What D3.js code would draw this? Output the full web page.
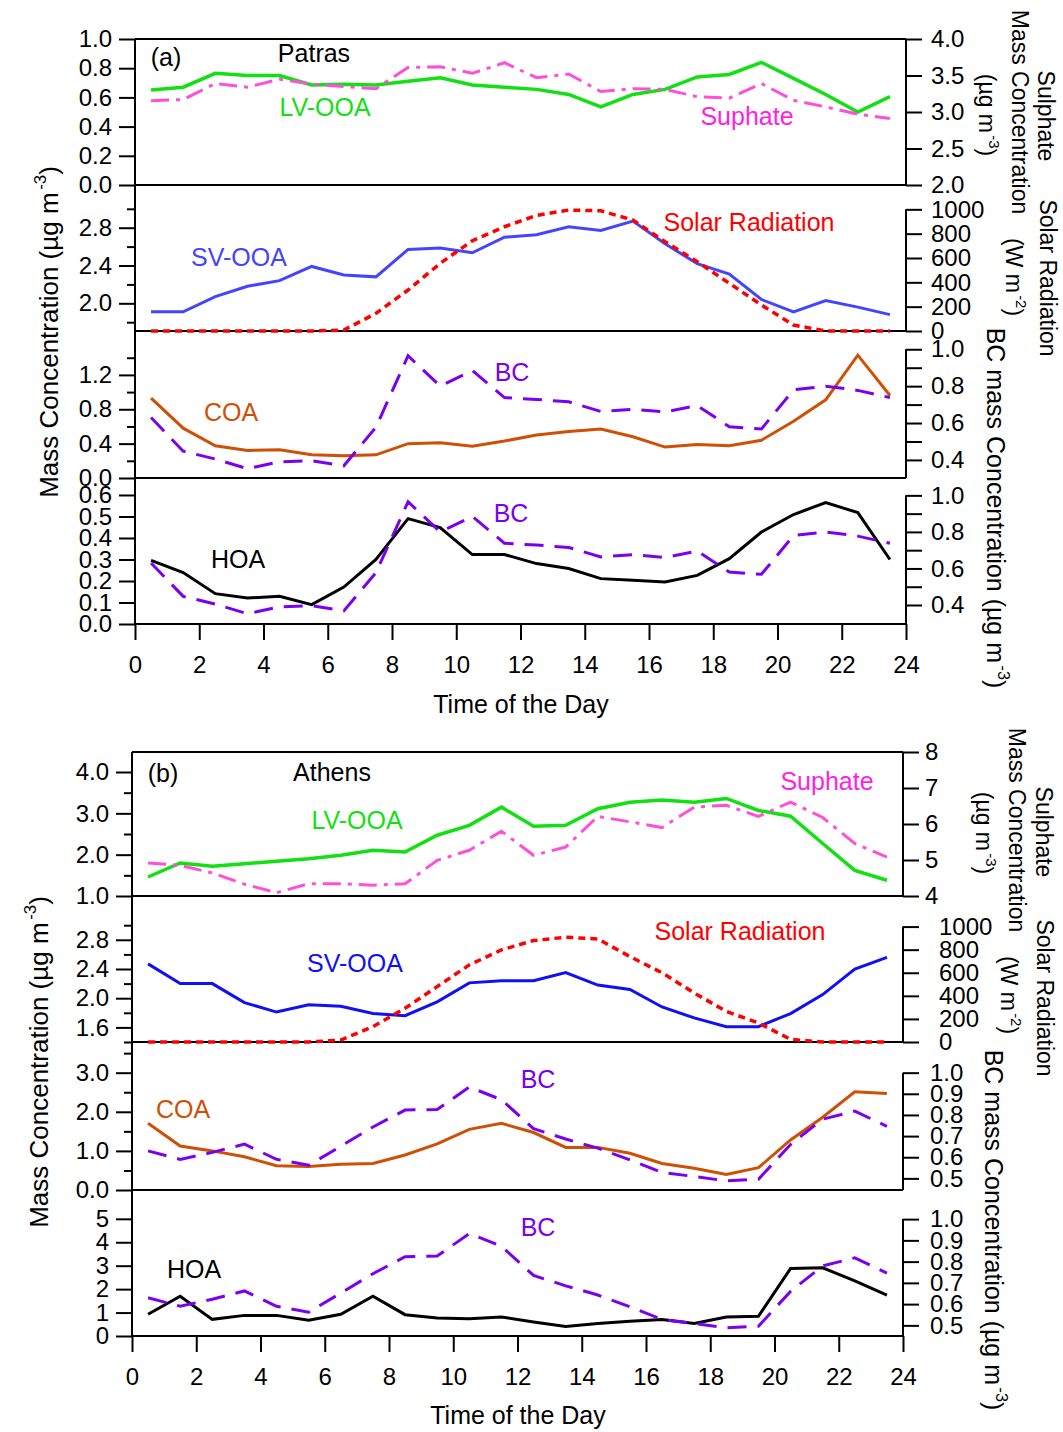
<!DOCTYPE html>
<html><head><meta charset="utf-8">
<script src="https://cdn.jsdelivr.net/npm/d3@7"></script>
<style>
body{margin:0;background:#fff}
svg{display:block}
text{font-family:"Liberation Sans",Arial,Helvetica,sans-serif}
</style>
</head><body>
<svg id="chart" width="1063" height="1432"></svg>
<script>
// ---------------- DATA ----------------
const hours = [0.5,1.5,2.5,3.5,4.5,5.5,6.5,7.5,8.5,9.5,10.5,11.5,12.5,13.5,14.5,15.5,16.5,17.5,18.5,19.5,20.5,21.5,22.5,23.5];
const xTicks = [0,2,4,6,8,10,12,14,16,18,20,22,24];

// (a) Patras
const patrasLVOOA    = [0.65,0.67,0.765,0.75,0.75,0.685,0.69,0.685,0.71,0.735,0.685,0.67,0.655,0.62,0.535,0.62,0.655,0.74,0.757,0.84,0.73,0.62,0.50,0.605];
const patrasSulphate = [3.155,3.17,3.39,3.34,3.45,3.38,3.35,3.32,3.61,3.62,3.53,3.675,3.47,3.52,3.28,3.32,3.31,3.21,3.19,3.39,3.16,3.07,2.97,2.91];
const patrasSVOOA    = [1.91,1.91,2.07,2.18,2.24,2.39,2.30,2.28,2.57,2.585,2.535,2.70,2.725,2.81,2.77,2.87,2.63,2.42,2.31,2.04,1.91,2.03,1.96,1.88];
const patrasSolar    = [0,0,0,0,0,0,8,145,337,556,742,857,950,994,988,912,734,570,392,214,49,0,0,0];
const patrasCOA      = [0.93,0.58,0.375,0.32,0.33,0.27,0.26,0.27,0.40,0.41,0.37,0.43,0.50,0.54,0.57,0.48,0.36,0.39,0.375,0.44,0.66,0.91,1.43,0.96];
const patrasBC       = [0.63,0.447,0.405,0.352,0.39,0.396,0.368,0.577,0.965,0.80,0.885,0.738,0.728,0.715,0.663,0.675,0.66,0.695,0.58,0.568,0.78,0.80,0.777,0.738];
const patrasHOA      = [0.296,0.239,0.141,0.121,0.129,0.09,0.172,0.30,0.49,0.448,0.323,0.323,0.281,0.258,0.211,0.203,0.195,0.226,0.304,0.428,0.509,0.565,0.518,0.30];

// (b) Athens
const athensLVOOA    = [1.46,1.80,1.72,1.78,1.84,1.90,1.985,2.105,2.065,2.47,2.71,3.15,2.69,2.71,3.11,3.27,3.32,3.27,3.36,3.07,2.93,2.27,1.62,1.38];
const athensSulphate = [4.92,4.85,4.64,4.33,4.09,4.34,4.34,4.30,4.34,4.99,5.27,5.80,5.13,5.36,6.21,6.06,5.90,6.47,6.52,6.21,6.61,6.18,5.46,5.08];
const athensSVOOA    = [2.47,2.20,2.20,1.94,1.81,1.91,1.89,1.79,1.76,1.95,2.21,2.24,2.24,2.35,2.18,2.12,1.88,1.73,1.61,1.61,1.79,2.05,2.40,2.56];
const athensSolar    = [0,0,0,0,0,0,17,133,292,480,668,798,879,908,893,740,600,425,265,165,23,0,0,0];
const athensCOA      = [1.705,1.125,1.0,0.85,0.62,0.60,0.66,0.68,0.895,1.18,1.55,1.705,1.47,1.09,1.09,0.94,0.68,0.555,0.40,0.57,1.28,1.86,2.51,2.47];
const athensBC       = [0.63,0.59,0.623,0.662,0.59,0.562,0.652,0.743,0.823,0.826,0.932,0.872,0.735,0.686,0.643,0.587,0.528,0.509,0.488,0.496,0.66,0.78,0.818,0.746];
const athensHOA      = [0.93,1.70,0.71,0.88,0.88,0.67,0.93,1.70,0.91,0.77,0.74,0.81,0.60,0.41,0.53,0.63,0.70,0.53,0.81,0.84,2.88,2.91,2.35,1.74];

// ---------------- STYLE ----------------
const C = {
  green:'#12e012', pinkLine:'#ff4fd8', pinkText:'#ff1ee6', blueA:'#4444ff', blueB:'#1010f2',
  red:'#ff0000', coa:'#cf4f05', bc:'#7a00f0', hoa:'#000000'
};
const DASH = { sulphate:'18,7,4,7', solar:'7,5', bc:'19,11' };

const svg = d3.select('#chart');

function styleAxis(sel){
  sel.selectAll('.domain').remove();
  sel.selectAll('.tick line').attr('stroke','#000').attr('stroke-width',2);
  sel.selectAll('.tick text').attr('font-size',24).attr('fill','#000');
}

function drawSub(g, x, s){
  const xl = x.range()[0], xr = x.range()[1];
  const yL = d3.scaleLinear().domain(s.leftDomain).range([s.bottom, s.top]);
  const yR = d3.scaleLinear().domain(s.rightDomain).range([s.bottom, s.top]);
  if (s.leftMinor && s.leftMinor.length)
    g.append('g').attr('transform',`translate(${xl},0)`)
      .call(d3.axisLeft(yL).tickValues(s.leftMinor).tickSize(8).tickFormat(''))
      .call(styleAxis);
  g.append('g').attr('transform',`translate(${xl},0)`)
    .call(d3.axisLeft(yL).tickValues(s.leftTicks).tickSize(16).tickPadding(7).tickFormat(d3.format(s.leftFmt)))
    .call(styleAxis);
  if (s.rightMinor && s.rightMinor.length)
    g.append('g').attr('transform',`translate(${xr},0)`)
      .call(d3.axisRight(yR).tickValues(s.rightMinor).tickSize(16).tickFormat(''))
      .call(styleAxis);
  g.append('g').attr('transform',`translate(${xr},0)`)
    .call(d3.axisRight(yR).tickValues(s.rightTicks).tickSize(16).tickPadding(s.rightPad).tickFormat(d3.format(s.rightFmt)))
    .call(styleAxis);
  g.append('line').attr('x1',xr).attr('x2',xr)
    .attr('y1',yR(s.rightLine[0])).attr('y2',yR(s.rightLine[1]))
    .attr('stroke','#000').attr('stroke-width',2);
  g.append('line').attr('x1',xl).attr('x2',xr).attr('y1',s.bottom).attr('y2',s.bottom)
    .attr('stroke','#000').attr('stroke-width',2);
  s.series.forEach(se=>{
    const yy = se.axis==='L' ? yL : yR;
    g.append('path').datum(se.values)
      .attr('d', d3.line().x((d,i)=>x(hours[i])).y(d=>yy(d)))
      .attr('fill','none').attr('stroke',se.color).attr('stroke-width',se.width||3)
      .attr('stroke-dasharray', se.dash||null);
  });
  (s.labels||[]).forEach(l=>{
    g.append('text').attr('x',l.x).attr('y',l.y).attr('dy','0.35em')
      .attr('text-anchor','middle').attr('font-size',25).attr('fill',l.color).text(l.text);
  });
}

function unitText(g, x, y, angle, size, parts){
  const t = g.append('text').attr('transform',`translate(${x},${y}) rotate(${angle})`)
    .attr('text-anchor','middle').attr('font-size',size).attr('fill','#000');
  t.append('tspan').text(parts[0]);
  if (parts[1] !== undefined){
    t.append('tspan').attr('font-size',size*0.65).attr('dy',-size*0.45).attr('dx',size*0.1).text(parts[1]);
    t.append('tspan').attr('dy',size*0.45).text(parts[2]);
  }
}

function drawPanel(p){
  const x = d3.scaleLinear().domain([0,24]).range([p.x0,p.x1]);
  const g = svg.append('g');
  p.subs.forEach(s=>drawSub(g,x,s));
  const top = p.subs[0].top, bottom = p.subs[p.subs.length-1].bottom;
  g.append('line').attr('x1',p.x0).attr('x2',p.x1).attr('y1',top).attr('y2',top).attr('stroke','#000').attr('stroke-width',2);
  g.append('line').attr('x1',p.x0).attr('x2',p.x0).attr('y1',top).attr('y2',bottom).attr('stroke','#000').attr('stroke-width',2);
  g.append('g').attr('transform',`translate(0,${bottom})`)
    .call(d3.axisBottom(x).tickValues(xTicks).tickSize(16).tickPadding(16).tickFormat(d3.format('d')))
    .call(styleAxis);
  g.append('text').attr('x',p.titleX).attr('y',p.titleY).attr('text-anchor','middle')
    .attr('font-size',25).text('Time of the Day');
  unitText(g, p.leftTitle[0], p.leftTitle[1], -90, 26, ['Mass Concentration (µg m','-3',')']);
  p.rightTitles.forEach(r=>unitText(g, r.x, r.y, 90, r.size||23, r.parts));
}

// ---------------- PANELS ----------------
drawPanel({
  x0:135, x1:906, titleX:521, titleY:713, leftTitle:[58,332],
  rightTitles:[
    {x:1038,y:116,parts:['Sulphate']},
    {x:1012,y:112,parts:['Mass Concentration']},
    {x:979,y:115,parts:['(µg m','-3',')']},
    {x:1040,y:278,parts:['Solar Radiation']},
    {x:1006,y:277,parts:['(W m','-2',')']},
    {x:987,y:508,size:25,parts:['BC mass Concentration (µg m','-3',')']}
  ],
  subs:[
    {top:39,bottom:185,leftDomain:[0,1],leftTicks:[0,0.2,0.4,0.6,0.8,1.0],leftMinor:[],leftFmt:'.1f',
     rightDomain:[2,4],rightTicks:[2,2.5,3,3.5,4],rightMinor:[],rightFmt:'.1f',rightLine:[2,4],rightPad:9,
     series:[{values:patrasLVOOA,axis:'L',color:C.green,width:3.5},
             {values:patrasSulphate,axis:'R',color:C.pinkLine,width:3,dash:DASH.sulphate}],
     labels:[{text:'(a)',x:166,y:57,color:'#000'},{text:'Patras',x:314,y:53,color:'#000'},
             {text:'LV-OOA',x:325,y:107,color:C.green},{text:'Suphate',x:747,y:116,color:C.pinkText}]},
    {top:185,bottom:331,leftDomain:[1.707,3.252],leftTicks:[2.0,2.4,2.8],leftMinor:[1.8,2.2,2.6,3.0],leftFmt:'.1f',
     rightDomain:[0,1200],rightTicks:[0,200,400,600,800,1000],rightMinor:[],rightFmt:'d',rightLine:[0,1000],rightPad:9,
     series:[{values:patrasSVOOA,axis:'L',color:C.blueA,width:3},
             {values:patrasSolar,axis:'R',color:C.red,width:3.5,dash:DASH.solar}],
     labels:[{text:'SV-OOA',x:239,y:257,color:C.blueA},{text:'Solar Radiation',x:749,y:222,color:C.red}]},
    {top:331,bottom:478,leftDomain:[0,1.711],leftTicks:[0,0.4,0.8,1.2],leftMinor:[0.2,0.6,1.0,1.4],leftFmt:'.1f',
     rightDomain:[0.302,1.099],rightTicks:[0.4,0.6,0.8,1.0],rightMinor:[0.5,0.7,0.9],rightFmt:'.1f',rightLine:[0.302,1.0],rightPad:9,
     series:[{values:patrasCOA,axis:'L',color:C.coa,width:3},
             {values:patrasBC,axis:'R',color:C.bc,width:3,dash:DASH.bc}],
     labels:[{text:'COA',x:231,y:412,color:C.coa},{text:'BC',x:512,y:372,color:C.bc}]},
    {top:478,bottom:624,leftDomain:[0,0.679],leftTicks:[0,0.1,0.2,0.3,0.4,0.5,0.6],leftMinor:[],leftFmt:'.1f',
     rightDomain:[0.296,1.095],rightTicks:[0.4,0.6,0.8,1.0],rightMinor:[0.5,0.7,0.9],rightFmt:'.1f',rightLine:[0.296,1.0],rightPad:9,
     series:[{values:patrasHOA,axis:'L',color:C.hoa,width:3},
             {values:patrasBC,axis:'R',color:C.bc,width:3,dash:DASH.bc}],
     labels:[{text:'HOA',x:238,y:559,color:'#000'},{text:'BC',x:511,y:513,color:C.bc}]}
  ]
});

drawPanel({
  x0:132, x1:903, titleX:518, titleY:1424, leftTitle:[48,1062],
  rightTitles:[
    {x:1036,y:832,parts:['Sulphate']},
    {x:1009,y:830,parts:['Mass Concentration']},
    {x:976,y:833,parts:['(µg m','-3',')']},
    {x:1037,y:998,parts:['Solar Radiation']},
    {x:1001,y:995,parts:['(W m','-2',')']},
    {x:985,y:1230,size:25,parts:['BC mass Concentration (µg m','-3',')']}
  ],
  subs:[
    {top:752,bottom:896,leftDomain:[1.0,4.484],leftTicks:[1,2,3,4],leftMinor:[1.5,2.5,3.5],leftFmt:'.1f',
     rightDomain:[4,8],rightTicks:[4,5,6,7,8],rightMinor:[],rightFmt:'d',rightLine:[4,8],rightPad:6,
     series:[{values:athensLVOOA,axis:'L',color:C.green,width:3.5},
             {values:athensSulphate,axis:'R',color:C.pinkLine,width:3,dash:DASH.sulphate}],
     labels:[{text:'(b)',x:163,y:773,color:'#000'},{text:'Athens',x:332,y:772,color:'#000'},
             {text:'LV-OOA',x:357,y:820,color:C.green},{text:'Suphate',x:827,y:781,color:C.pinkText}]},
    {top:896,bottom:1042,leftDomain:[1.4,3.4],leftTicks:[1.6,2.0,2.4,2.8],leftMinor:[1.4,1.8,2.2,2.6,3.0],leftFmt:'.1f',
     rightDomain:[0,1265],rightTicks:[0,200,400,600,800,1000],rightMinor:[],rightFmt:'d',rightLine:[0,1000],rightPad:20,
     series:[{values:athensSVOOA,axis:'L',color:C.blueB,width:3},
             {values:athensSolar,axis:'R',color:C.red,width:3.5,dash:DASH.solar}],
     labels:[{text:'SV-OOA',x:355,y:963,color:C.blueB},{text:'Solar Radiation',x:740,y:931,color:C.red}]},
    {top:1042,bottom:1190,leftDomain:[0,3.785],leftTicks:[0,1,2,3],leftMinor:[0.5,1.5,2.5,3.5],leftFmt:'.1f',
     rightDomain:[0.445,1.145],rightTicks:[0.5,0.6,0.7,0.8,0.9,1.0],rightMinor:[],rightFmt:'.1f',rightLine:[0.445,1.0],rightPad:11,
     series:[{values:athensCOA,axis:'L',color:C.coa,width:3},
             {values:athensBC,axis:'R',color:C.bc,width:3,dash:DASH.bc}],
     labels:[{text:'COA',x:183,y:1109,color:C.coa},{text:'BC',x:538,y:1079,color:C.bc}]},
    {top:1190,bottom:1336,leftDomain:[0,6.23],leftTicks:[0,1,2,3,4,5],leftMinor:[],leftFmt:'d',
     rightDomain:[0.45,1.137],rightTicks:[0.5,0.6,0.7,0.8,0.9,1.0],rightMinor:[],rightFmt:'.1f',rightLine:[0.45,1.0],rightPad:11,
     series:[{values:athensHOA,axis:'L',color:C.hoa,width:3},
             {values:athensBC,axis:'R',color:C.bc,width:3,dash:DASH.bc}],
     labels:[{text:'HOA',x:194,y:1269,color:'#000'},{text:'BC',x:538,y:1227,color:C.bc}]}
  ]
});
</script>
</body></html>
